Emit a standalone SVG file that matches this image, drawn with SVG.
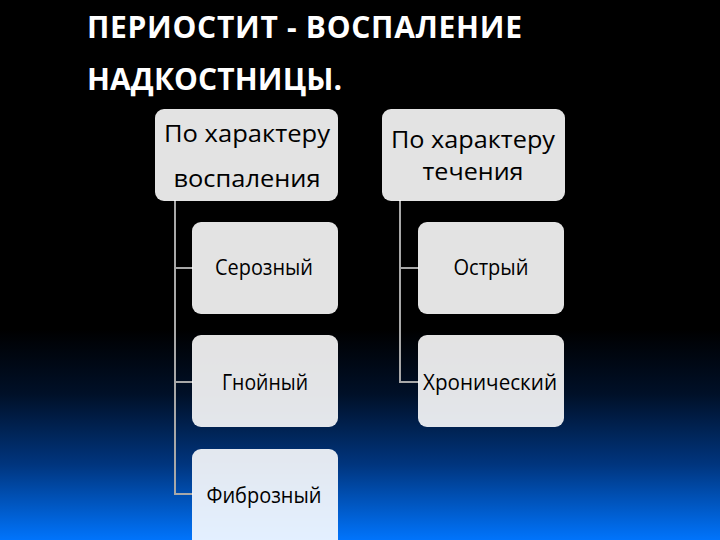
<svg xmlns="http://www.w3.org/2000/svg" width="720" height="540" viewBox="0 0 720 540">
<defs>
<linearGradient id="bg" x1="0" y1="0" x2="0" y2="1">
<stop offset="0" stop-color="#000000"/>
<stop offset="0.61" stop-color="#000000"/>
<stop offset="0.73" stop-color="#001028"/>
<stop offset="0.86" stop-color="#00357e"/>
<stop offset="1" stop-color="#0074fc"/>
</linearGradient>
<style>
.title{font-family:"Open Sans","DejaVu Sans",sans-serif;font-weight:bold;font-size:30px;fill:#ffffff}
.box{fill:#ffffff;fill-opacity:0.89;stroke:none}
.lbl{font-family:"Open Sans","Noto Sans",sans-serif;fill:#000000;text-anchor:middle}
.hdr{font-size:24px}
.chl{font-size:21px}
.con{stroke:#a8a8a8;stroke-width:2;fill:none}
</style>
</defs>
<rect x="0" y="0" width="720" height="540" fill="url(#bg)"/>
<g id="title">
<text class="title" x="87" y="38" textLength="435" lengthAdjust="spacing">ПЕРИОСТИТ - ВОСПАЛЕНИЕ</text>
<text class="title" x="87" y="90" textLength="255" lengthAdjust="spacing">НАДКОСТНИЦЫ.</text>
</g>
<g id="connectors">
<path class="con" d="M175 200 V494 H193 M175 268 H193 M175 382 H193"/>
<path class="con" d="M400 200 V382 H419 M400 268 H419"/>
</g>
<g id="n-vospalenie">
<rect class="box" x="155" y="109" width="183" height="92" rx="9"/>
<text class="lbl hdr" x="247" y="142" textLength="166" lengthAdjust="spacingAndGlyphs">По характеру</text>
<text class="lbl hdr" x="247" y="187" textLength="147" lengthAdjust="spacingAndGlyphs">воспаления</text>
</g>
<g id="n-techenie">
<rect class="box" x="382" y="109" width="183" height="92" rx="9"/>
<text class="lbl hdr" x="473" y="148" textLength="164" lengthAdjust="spacingAndGlyphs">По характеру</text>
<text class="lbl hdr" x="473" y="180" textLength="101" lengthAdjust="spacingAndGlyphs">течения</text>
</g>
<g id="n-serozny">
<rect class="box" x="192" y="222" width="146" height="92" rx="9"/>
<text class="lbl chl" x="264" y="275" textLength="98" lengthAdjust="spacingAndGlyphs">Серозный</text>
</g>
<g id="n-gnoyny">
<rect class="box" x="192" y="335" width="146" height="92" rx="9"/>
<text class="lbl chl" x="265" y="390" textLength="86" lengthAdjust="spacingAndGlyphs">Гнойный</text>
</g>
<g id="n-fibrozny">
<rect class="box" x="192" y="449" width="146" height="100" rx="9"/>
<text class="lbl chl" x="264" y="503" textLength="115" lengthAdjust="spacingAndGlyphs">Фиброзный</text>
</g>
<g id="n-ostry">
<rect class="box" x="418" y="222" width="146" height="92" rx="9"/>
<text class="lbl chl" x="491" y="275" textLength="75" lengthAdjust="spacingAndGlyphs">Острый</text>
</g>
<g id="n-hronichesky">
<rect class="box" x="418" y="335" width="146" height="92" rx="9"/>
<text class="lbl chl" x="490" y="390" textLength="134" lengthAdjust="spacingAndGlyphs">Хронический</text>
</g>
</svg>
